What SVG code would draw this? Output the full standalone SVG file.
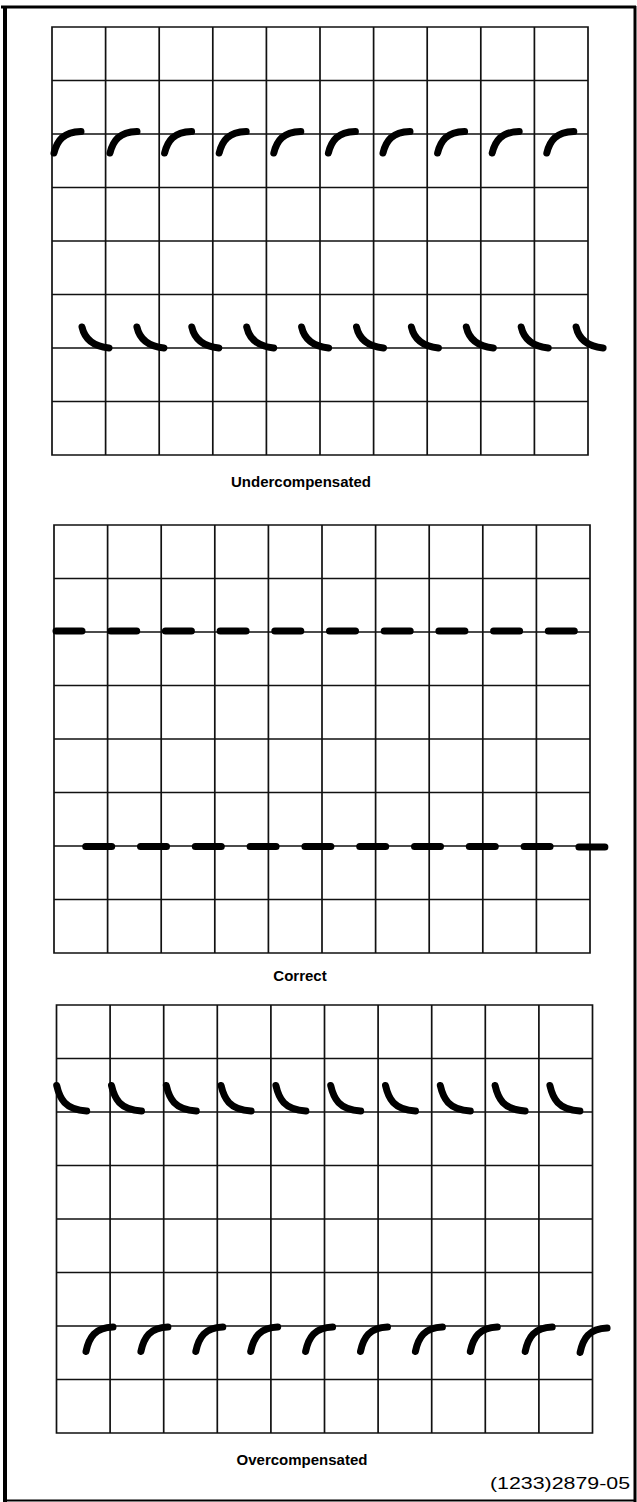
<svg xmlns="http://www.w3.org/2000/svg" xmlns:xlink="http://www.w3.org/1999/xlink" width="637" height="1502" viewBox="0 0 637 1502">
<style>
.grid{fill:none;stroke:#111;stroke-width:1.7}
.trace{fill:none;stroke:#000;stroke-width:7;stroke-linecap:round;stroke-linejoin:round}
.lbl{font-family:"Liberation Sans",Arial,sans-serif;font-weight:bold;font-size:15px;fill:#000;text-anchor:middle}
.num{font-family:"Liberation Sans",Arial,sans-serif;font-size:16px;fill:#000}
.frame{fill:none;stroke:#000}
</style>
<defs>
<path id="g" class="grid" d="M0 0H536V428H0Z M53.6 0V428 M107.2 0V428 M160.8 0V428 M214.4 0V428 M268 0V428 M321.6 0V428 M375.2 0V428 M428.8 0V428 M482.4 0V428 M0 53.5H536 M0 107H536 M0 160.5H536 M0 214H536 M0 267.5H536 M0 321H536 M0 374.5H536"/>
<path id="rise" class="trace" d="M0 0C3 -12 9 -21 27 -21.5"/>
<path id="fall" class="trace" d="M0 0C2 9 8 19 27 21"/>
<path id="dash" class="trace" d="M3 0H29"/>
<path id="fall2" class="trace" d="M0 0C3 13 8 24 30 25.5"/>
<path id="rise2" class="trace" d="M0 0C3 -14 9 -24 27 -24.5"/>
</defs>

<g id="frame">
<line class="frame" x1="1" y1="7" x2="636" y2="7" stroke-width="3"/>
<line class="frame" x1="5" y1="6" x2="5" y2="1502" stroke-width="4"/>
<line class="frame" x1="635" y1="6" x2="635" y2="1502" stroke-width="3"/>
<line class="frame" x1="3" y1="1500.5" x2="636" y2="1500.5" stroke-width="2"/>
</g>

<g id="undercompensated">
<use xlink:href="#g" x="52" y="27"/>
<g id="under-top">
<use xlink:href="#rise" x="54" y="153"/>
<use xlink:href="#rise" x="110" y="153"/>
<use xlink:href="#rise" x="164.6" y="153"/>
<use xlink:href="#rise" x="219.2" y="153"/>
<use xlink:href="#rise" x="273.8" y="153"/>
<use xlink:href="#rise" x="328.4" y="153"/>
<use xlink:href="#rise" x="383" y="153"/>
<use xlink:href="#rise" x="437.6" y="153"/>
<use xlink:href="#rise" x="492.2" y="153"/>
<use xlink:href="#rise" x="546.8" y="153"/>
</g>
<g id="under-bottom">
<use xlink:href="#fall" x="82" y="327"/>
<use xlink:href="#fall" x="136.9" y="327"/>
<use xlink:href="#fall" x="191.8" y="327"/>
<use xlink:href="#fall" x="246.7" y="327"/>
<use xlink:href="#fall" x="301.6" y="327"/>
<use xlink:href="#fall" x="356.5" y="327"/>
<use xlink:href="#fall" x="411.4" y="327"/>
<use xlink:href="#fall" x="466.3" y="327"/>
<use xlink:href="#fall" x="521.2" y="327"/>
<use xlink:href="#fall" x="576.1" y="327"/>
</g>
<text class="lbl" x="301" y="487">Undercompensated</text>
</g>

<g id="correct">
<use xlink:href="#g" x="54" y="525"/>
<g id="correct-top">
<use xlink:href="#dash" x="53" y="631"/>
<use xlink:href="#dash" x="107.7" y="631"/>
<use xlink:href="#dash" x="162.4" y="631"/>
<use xlink:href="#dash" x="217.1" y="631"/>
<use xlink:href="#dash" x="271.8" y="631"/>
<use xlink:href="#dash" x="326.5" y="631"/>
<use xlink:href="#dash" x="381.2" y="631"/>
<use xlink:href="#dash" x="435.9" y="631"/>
<use xlink:href="#dash" x="490.6" y="631"/>
<use xlink:href="#dash" x="545.3" y="631"/>
</g>
<g id="correct-bottom">
<use xlink:href="#dash" x="82.7" y="846.5"/>
<use xlink:href="#dash" x="137.5" y="846.5"/>
<use xlink:href="#dash" x="192.3" y="846.5"/>
<use xlink:href="#dash" x="247.1" y="846.5"/>
<use xlink:href="#dash" x="301.9" y="846.5"/>
<use xlink:href="#dash" x="356.7" y="846.5"/>
<use xlink:href="#dash" x="411.5" y="846.5"/>
<use xlink:href="#dash" x="466.3" y="846.5"/>
<use xlink:href="#dash" x="521.1" y="846.5"/>
<use xlink:href="#dash" x="575.9" y="847"/>
</g>
<text class="lbl" x="300" y="981">Correct</text>
</g>

<g id="overcompensated">
<use xlink:href="#g" x="56.5" y="1005"/>
<g id="over-top">
<use xlink:href="#fall2" x="56.7" y="1085.5"/>
<use xlink:href="#fall2" x="111.5" y="1085.5"/>
<use xlink:href="#fall2" x="166.3" y="1085.5"/>
<use xlink:href="#fall2" x="221.1" y="1085.5"/>
<use xlink:href="#fall2" x="275.9" y="1085.5"/>
<use xlink:href="#fall2" x="330.7" y="1085.5"/>
<use xlink:href="#fall2" x="385.5" y="1085.5"/>
<use xlink:href="#fall2" x="440.3" y="1085.5"/>
<use xlink:href="#fall2" x="495.1" y="1085.5"/>
<use xlink:href="#fall2" x="549.9" y="1085.5"/>
</g>
<g id="over-bottom">
<use xlink:href="#rise2" x="86" y="1351.5"/>
<use xlink:href="#rise2" x="140.9" y="1351.5"/>
<use xlink:href="#rise2" x="195.8" y="1351.5"/>
<use xlink:href="#rise2" x="250.7" y="1351.5"/>
<use xlink:href="#rise2" x="305.6" y="1351.5"/>
<use xlink:href="#rise2" x="360.5" y="1351.5"/>
<use xlink:href="#rise2" x="415.4" y="1351.5"/>
<use xlink:href="#rise2" x="470.3" y="1351.5"/>
<use xlink:href="#rise2" x="525.2" y="1351.5"/>
<use xlink:href="#rise2" x="580.1" y="1352.5"/>
</g>
<text class="lbl" x="302" y="1465">Overcompensated</text>
</g>

<text id="figure-number" class="num" x="490" y="1489" textLength="140" lengthAdjust="spacingAndGlyphs">(1233)2879-05</text>
</svg>
